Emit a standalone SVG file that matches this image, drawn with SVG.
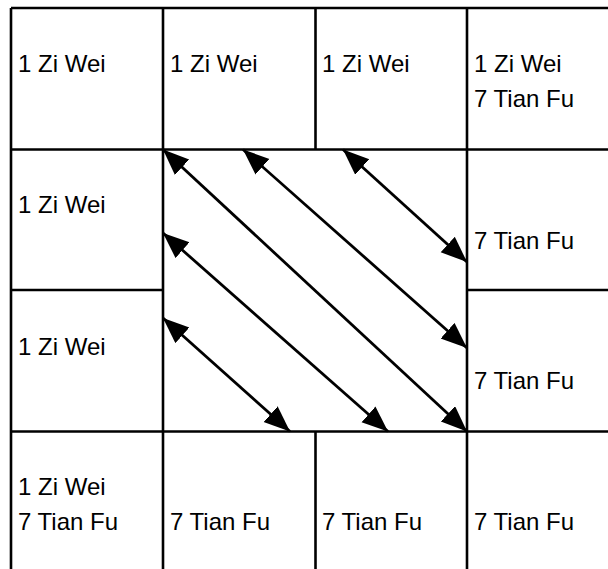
<svg xmlns="http://www.w3.org/2000/svg" width="608" height="569" viewBox="0 0 608 569">
<style>
.grid{stroke:#000;stroke-width:2.6;fill:none}
.t{font-family:"Liberation Sans",Arial,sans-serif;font-size:24px;fill:#000}
.arr{stroke:#000;stroke-width:2.8;fill:none;marker-start:url(#ah);marker-end:url(#ah)}
</style>
<defs>
<marker id="ah" markerUnits="userSpaceOnUse" markerWidth="30" markerHeight="24" refX="26" refY="10.5" orient="auto-start-reverse">
<path d="M0,0 L26,10.5 L0,21 z" fill="#000"/>
</marker>
</defs>
<rect width="608" height="569" fill="#fff"/>
<g id="grid" class="grid">
<line x1="11" y1="8" x2="608" y2="8"/>
<line x1="11" y1="149.5" x2="608" y2="149.5"/>
<line x1="11" y1="290" x2="163" y2="290"/>
<line x1="467" y1="290" x2="608" y2="290"/>
<line x1="11" y1="431.5" x2="608" y2="431.5"/>
<line x1="11" y1="8" x2="11" y2="569"/>
<line x1="163" y1="8" x2="163" y2="569"/>
<line x1="315.5" y1="8" x2="315.5" y2="149.5"/>
<line x1="315.5" y1="431.5" x2="315.5" y2="569"/>
<line x1="467" y1="8" x2="467" y2="569"/>
</g>
<g id="c00"><text class="t" x="18" y="72">1 Zi Wei</text></g>
<g id="c01"><text class="t" x="170" y="72">1 Zi Wei</text></g>
<g id="c02"><text class="t" x="322" y="72">1 Zi Wei</text></g>
<g id="c03"><text class="t" x="474" y="72">1 Zi Wei</text><text class="t" x="474" y="107">7 Tian Fu</text></g>
<g id="c10"><text class="t" x="18" y="213">1 Zi Wei</text></g>
<g id="c13"><text class="t" x="474" y="249">7 Tian Fu</text></g>
<g id="c20"><text class="t" x="18" y="355">1 Zi Wei</text></g>
<g id="c23"><text class="t" x="474" y="389">7 Tian Fu</text></g>
<g id="c30"><text class="t" x="18" y="495">1 Zi Wei</text><text class="t" x="18" y="530">7 Tian Fu</text></g>
<g id="c31"><text class="t" x="170" y="530">7 Tian Fu</text></g>
<g id="c32"><text class="t" x="322" y="530">7 Tian Fu</text></g>
<g id="c33"><text class="t" x="474" y="530">7 Tian Fu</text></g>
<g id="connectors">
<line class="arr" x1="163" y1="149.5" x2="467" y2="431.5"/>
<line class="arr" x1="243" y1="149.5" x2="467" y2="348"/>
<line class="arr" x1="343" y1="149.5" x2="467" y2="262"/>
<line class="arr" x1="163" y1="233" x2="388" y2="431.5"/>
<line class="arr" x1="163" y1="318" x2="290" y2="431.5"/>
</g>
</svg>
